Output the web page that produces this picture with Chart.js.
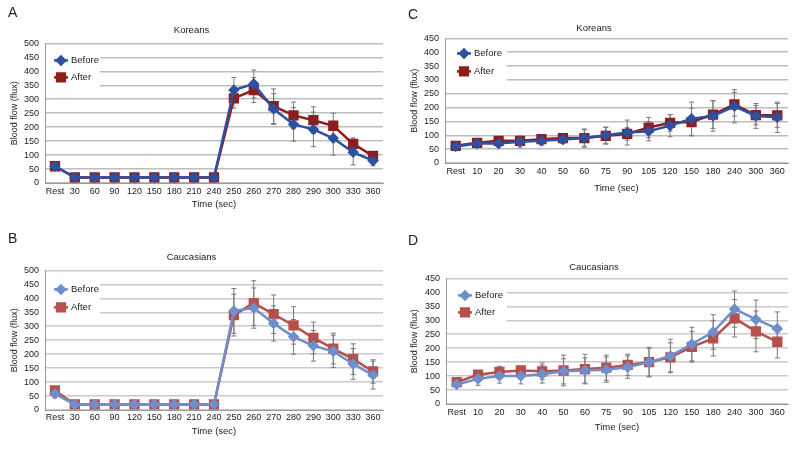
<!DOCTYPE html>
<html>
<head>
<meta charset="utf-8">
<script src="https://cdn.jsdelivr.net/npm/chart.js@4.4.1/dist/chart.umd.min.js"></script>
<style>
  html, body { margin: 0; padding: 0; background: #fff; }
  #page { position: relative; width: 800px; height: 457px; overflow: hidden; }
  .panel { position: absolute; }
  .letter { position: absolute; font: 14px "Liberation Sans Narrow", "Liberation Sans", sans-serif; color: #222; }
</style>
</head>
<body>
<div id="page">
  <div class="panel" style="left:0;top:0;width:400px;height:225px"><canvas id="chartA"></canvas></div>
  <div class="panel" style="left:400px;top:0;width:400px;height:225px"><canvas id="chartC"></canvas></div>
  <div class="panel" style="left:0;top:225px;width:400px;height:232px"><canvas id="chartB"></canvas></div>
  <div class="panel" style="left:400px;top:225px;width:400px;height:232px"><canvas id="chartD"></canvas></div>
  <div class="letter" style="left:8px;top:4px">A</div>
  <div class="letter" style="left:408px;top:6px">C</div>
  <div class="letter" style="left:8px;top:230px">B</div>
  <div class="letter" style="left:408px;top:232px">D</div>
</div>
<script>
// ---- data ----
const timeLabelsAB = ['Rest', '30', '60', '90', '120', '150', '180', '210', '240', '250', '260', '270', '280', '290', '300', '330', '360'];
const timeLabelsCD = ['Rest', '10', '20', '30', '40', '50', '60', '75', '90', '105', '120', '150', '180', '240', '300', '360'];

// A: Koreans (occlusion)
const korA_before   = [60, 20, 20, 20, 20, 20, 20, 20, 20, 333, 355, 265, 210, 192, 160, 110, 80];
const korA_after    = [60, 20, 20, 20, 20, 20, 20, 20, 20, 303, 333, 275, 242, 225, 205, 140, 97];
const korA_beforeSD = [5, 0, 0, 0, 0, 0, 0, 0, 0, 45, 50, 55, 60, 62, 60, 45, 18];
const korA_afterSD  = [5, 0, 0, 0, 0, 0, 0, 0, 0, 35, 45, 62, 48, 48, 45, 22, 12];

// B: Caucasians (occlusion)
const cauB_before   = [58, 20, 20, 20, 20, 20, 20, 20, 20, 355, 365, 310, 262, 230, 210, 165, 125];
const cauB_after    = [70, 20, 20, 20, 20, 20, 20, 20, 20, 340, 383, 343, 303, 258, 220, 182, 138];
const cauB_beforeSD = [15, 0, 0, 0, 0, 0, 0, 0, 0, 80, 72, 63, 62, 55, 58, 55, 50];
const cauB_afterSD  = [10, 0, 0, 0, 0, 0, 0, 0, 0, 75, 80, 69, 67, 57, 55, 55, 42];

// C: Koreans (heating)
const korC_before   = [60, 70, 70, 77, 80, 85, 90, 100, 110, 115, 135, 160, 170, 205, 170, 165];
const korC_after    = [62, 73, 80, 80, 86, 90, 90, 98, 105, 128, 145, 148, 175, 212, 173, 172];
const korC_beforeSD = [5, 8, 10, 20, 15, 15, 33, 30, 45, 35, 40, 60, 55, 60, 45, 55];
const korC_afterSD  = [5, 8, 8, 15, 15, 15, 30, 30, 22, 37, 30, 50, 50, 43, 35, 43];

// D: Caucasians (heating)
const cauD_before   = [70, 90, 100, 100, 107, 117, 120, 123, 132, 150, 172, 215, 258, 340, 303, 270];
const cauD_after    = [78, 105, 115, 120, 117, 120, 125, 130, 140, 150, 167, 205, 235, 307, 260, 223];
const cauD_beforeSD = [5, 23, 25, 28, 32, 45, 45, 45, 40, 50, 60, 60, 62, 65, 69, 60];
const cauD_afterSD  = [5, 13, 20, 10, 30, 55, 53, 45, 38, 53, 52, 55, 63, 67, 73, 58];

const FONT = '"Liberation Sans Narrow", "Liberation Sans", sans-serif';

// grey error bars with small caps, drawn under the lines
const errorBarPlugin = {
    id: 'errorBars',
    beforeDatasetsDraw(chart) {
        const ctx = chart.ctx;
        const y = chart.scales.y;
        ctx.save();
        ctx.strokeStyle = '#7a7a7a';
        ctx.lineWidth = 1;
        chart.data.datasets.forEach((ds, i) => {
            if (!ds.errors) return;
            chart.getDatasetMeta(i).data.forEach((pt, j) => {
                const e = ds.errors[j];
                if (!e) return;
                const top = y.getPixelForValue(ds.data[j] + e);
                const bot = y.getPixelForValue(ds.data[j] - e);
                ctx.beginPath();
                ctx.moveTo(pt.x, top); ctx.lineTo(pt.x, bot);
                ctx.moveTo(pt.x - 2.5, top); ctx.lineTo(pt.x + 2.5, top);
                ctx.moveTo(pt.x - 2.5, bot); ctx.lineTo(pt.x + 2.5, bot);
                ctx.stroke();
            });
        });
        ctx.restore();
    }
};

// Excel-style legend sitting inside the plot area, on a white box
const boxLegendPlugin = {
    id: 'boxLegend',
    beforeDatasetsDraw(chart, args, opts) {
        const ctx = chart.ctx;
        const a = chart.chartArea;
        ctx.save();
        ctx.fillStyle = '#fff';
        ctx.fillRect(a.left + 1, a.top + opts.boxTop, opts.boxWidth, opts.boxHeight);
        ctx.font = '9.5px ' + FONT;
        ctx.textBaseline = 'middle';
        chart.data.datasets.forEach((ds, i) => {
            const yy = a.top + opts.rows[i];
            const x0 = a.left + opts.lineStart;
            ctx.strokeStyle = ds.borderColor;
            ctx.lineWidth = 2.5;
            ctx.beginPath();
            ctx.moveTo(x0, yy); ctx.lineTo(x0 + 14, yy);
            ctx.stroke();
            Chart.helpers.drawPoint(ctx, {
                pointStyle: ds.pointStyle, radius: ds.pointRadius, borderWidth: 1
            }, x0 + 7, yy);
            ctx.fillStyle = ds.backgroundColor;
            ctx.fill();
            ctx.fillStyle = '#222';
            ctx.fillText(ds.label, x0 + 17, yy);
        });
        ctx.restore();
    }
};

function makeChart(id, labels, before, after, beforeSD, afterSD, cfg) {
    const ctx = document.getElementById(id).getContext('2d');
    return new Chart(ctx, {
        type: 'line',
        data: {
            labels: labels,
            datasets: [
                { label: 'Before', data: before, errors: beforeSD, borderColor: cfg.blue, backgroundColor: cfg.blue,
                  borderWidth: 2.5, pointStyle: 'rectRot', pointRadius: 4, tension: 0 },
                { label: 'After', data: after, errors: afterSD, borderColor: cfg.red, backgroundColor: cfg.red,
                  borderWidth: 2.5, pointStyle: 'rect', pointRadius: 5.5, tension: 0 }
            ]
        },
        plugins: [errorBarPlugin, boxLegendPlugin],
        options: {
            responsive: true, maintainAspectRatio: false, animation: false,
            layout: { padding: { left: 0, right: cfg.padRight, top: cfg.padTop, bottom: cfg.padBottom } },
            plugins: {
                legend: { display: false },
                tooltip: { enabled: false },
                title: { display: true, text: cfg.title, color: '#222', font: { family: FONT, size: 9.5, weight: 'normal' },
                         padding: { top: 2, bottom: cfg.titleGap } },
                boxLegend: cfg.legend
            },
            scales: {
                x: {
                    offset: true,
                    grid: { display: false, drawTicks: false },
                    border: { display: true, color: '#9a9a9a' },
                    ticks: { color: '#222', font: { family: FONT, size: 9 }, padding: cfg.xTickPad, maxRotation: 0, autoSkip: false },
                    title: { display: true, text: 'Time (sec)', color: '#222', font: { family: FONT, size: 9.5 }, padding: 0 },
                    afterFit: (s) => { s.height = cfg.xHeight; }
                },
                y: {
                    min: 0, max: cfg.yMax,
                    grid: { color: cfg.gridColor, lineWidth: 1.5, drawTicks: false },
                    border: { display: true, color: '#9a9a9a' },
                    ticks: { stepSize: 50, autoSkip: false, color: '#222', font: { family: FONT, size: 9 }, padding: 6 },
                    title: { display: true, text: 'Blood flow (flux)', color: '#222', font: { family: FONT, size: 9 }, padding: { top: 9 } },
                    afterFit: (s) => { s.width = cfg.yWidth; }
                }
            }
        }
    });
}

const darkBlue = '#2f4f9f', darkRed = '#8b1e1e';
const lightBlue = '#6e8fcb', lightRed = '#b5504d';

makeChart('chartA', timeLabelsAB, korA_before, korA_after, korA_beforeSD, korA_afterSD, {
    title: 'Koreans', yMax: 500, blue: darkBlue, red: darkRed, gridColor: '#bdbdbd',
    yWidth: 45, padRight: 17, padTop: 23, titleGap: 7, xHeight: 27, xTickPad: 3, padBottom: 15,
    legend: { boxTop: 3, boxWidth: 54, boxHeight: 42, rows: [17, 34], lineStart: 9 }
});
makeChart('chartC', timeLabelsCD, korC_before, korC_after, korC_beforeSD, korC_afterSD, {
    title: 'Koreans', yMax: 450, blue: darkBlue, red: darkRed, gridColor: '#bdbdbd',
    yWidth: 45, padRight: 12, padTop: 21, titleGap: 4, xHeight: 31, xTickPad: 3, padBottom: 31,
    legend: { boxTop: 5, boxWidth: 61, boxHeight: 38, rows: [15, 33], lineStart: 12 }
});
makeChart('chartB', timeLabelsAB, cauB_before, cauB_after, cauB_beforeSD, cauB_afterSD, {
    title: 'Caucasians', yMax: 500, blue: lightBlue, red: lightRed, gridColor: '#cacaca',
    yWidth: 45, padRight: 17, padTop: 25, titleGap: 7, xHeight: 27, xTickPad: 2, padBottom: 20,
    legend: { boxTop: 5, boxWidth: 54, boxHeight: 44, rows: [19, 37], lineStart: 9 }
});
makeChart('chartD', timeLabelsCD, cauD_before, cauD_after, cauD_beforeSD, cauD_afterSD, {
    title: 'Caucasians', yMax: 450, blue: lightBlue, red: lightRed, gridColor: '#cacaca',
    yWidth: 46, padRight: 12, padTop: 35, titleGap: 5, xHeight: 29, xTickPad: 3, padBottom: 24,
    legend: { boxTop: 4, boxWidth: 60, boxHeight: 42, rows: [17, 34], lineStart: 12 }
});
</script>
</body>
</html>
